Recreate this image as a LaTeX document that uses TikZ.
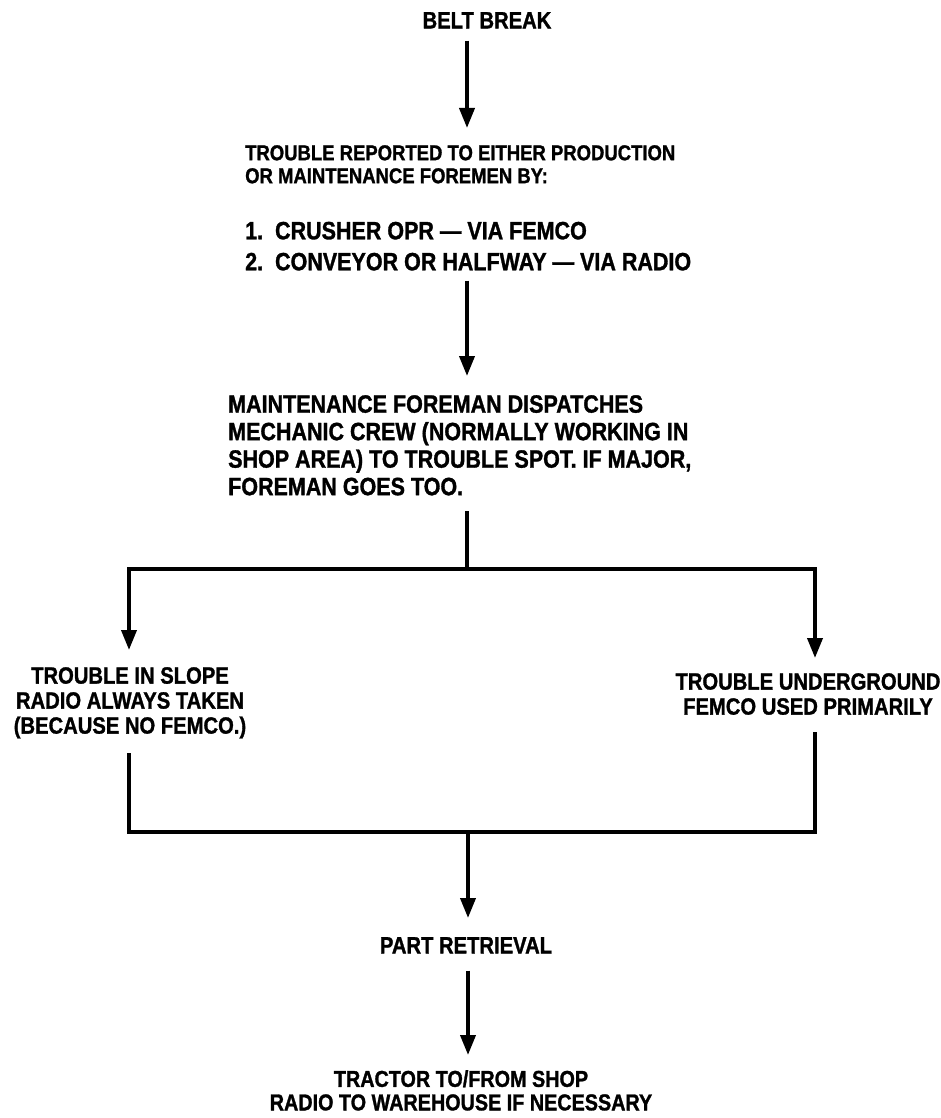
\documentclass[tikz,border=0pt]{standalone}
\usepackage{fontspec}
\setmainfont{Liberation Sans}[FakeStretch=0.86, BoldFeatures={FakeBold=1.2}]
\usepackage{tikz}
\usetikzlibrary{positioning,arrows.meta,calc}

\begin{document}
\begin{tikzpicture}[x=1pt, y=-1pt,
  txt/.style={inner sep=0pt, font=\fontsize{23.5}{25}\selectfont\bfseries},
  big/.style={inner sep=0pt, font=\fontsize{25}{27.5}\selectfont\bfseries},
  wire/.style={line width=3.8pt, line cap=rect},
  arr/.style={line width=3.8pt, -{Triangle[length=20pt, width=15pt]}}
]
\useasboundingbox (0,0) rectangle (940,1118);
\coordinate (spine) at (467,0);

\node[txt, anchor=north] (belt) at (487,12) {BELT BREAK};
\node[txt, font=\fontsize{21.5}{23}\selectfont\bfseries, anchor=north west, align=left] (report) at (245,145)
  {TROUBLE REPORTED TO EITHER PRODUCTION\\OR MAINTENANCE FOREMEN BY:};
\node[big, below=38pt of report.south west, anchor=north west, align=left, font=\fontsize{25}{31}\selectfont\bfseries] (items)
  {1.\ \ CRUSHER OPR — VIA FEMCO\\2.\ \ CONVEYOR OR HALFWAY — VIA RADIO};
\node[big, anchor=north west, align=left] (dispatch) at (228,395)
  {MAINTENANCE FOREMAN DISPATCHES\\MECHANIC CREW (NORMALLY WORKING IN\\SHOP AREA) TO TROUBLE SPOT. IF MAJOR,\\FOREMAN GOES TOO.};
\node[txt, anchor=north, align=center] (slope) at (130,667)
  {TROUBLE IN SLOPE\\RADIO ALWAYS TAKEN\\(BECAUSE NO FEMCO.)};
\node[txt, anchor=north, align=center] (under) at (808,673)
  {TROUBLE UNDERGROUND\\FEMCO USED PRIMARILY};
\node[txt, anchor=north] (part) at (466,937) {PART RETRIEVAL};
\node[txt, anchor=north, align=center, font=\fontsize{23}{23.5}\selectfont\bfseries] (tractor) at (461,1070)
  {TRACTOR TO/FROM SHOP\\RADIO TO WAREHOUSE IF NECESSARY};

\coordinate (split) at (467,569);
\coordinate (lsplit) at (129,569);
\coordinate (rsplit) at (815,569);
\coordinate (ljoin) at (129,832);
\coordinate (rjoin) at (815,832);
\coordinate (join) at (468,832);

\draw[arr] ([yshift=-12pt]belt.south -| spine) -- ([yshift=17pt]report.north -| spine);
\draw[arr] ([yshift=-10pt]items.south -| spine) -- ([yshift=19pt]dispatch.north -| spine);
\draw[wire] ([yshift=-17pt]dispatch.south -| split) -- (split);
\draw[wire] (lsplit) -- (rsplit);
\draw[arr] (lsplit) -- ([yshift=17pt]slope.north -| lsplit);
\draw[arr] (rsplit) -- ([yshift=15pt]under.north -| rsplit);
\draw[wire] ([yshift=-16pt]slope.south -| ljoin) -- (ljoin) -- (rjoin) -- ([yshift=-19pt]under.south -| rjoin);
\draw[arr] (join) -- ([yshift=19pt]part.north -| join);
\draw[arr] ([yshift=-17pt]part.south -| join) -- ([yshift=15pt]tractor.north -| join);
\end{tikzpicture}
\end{document}
